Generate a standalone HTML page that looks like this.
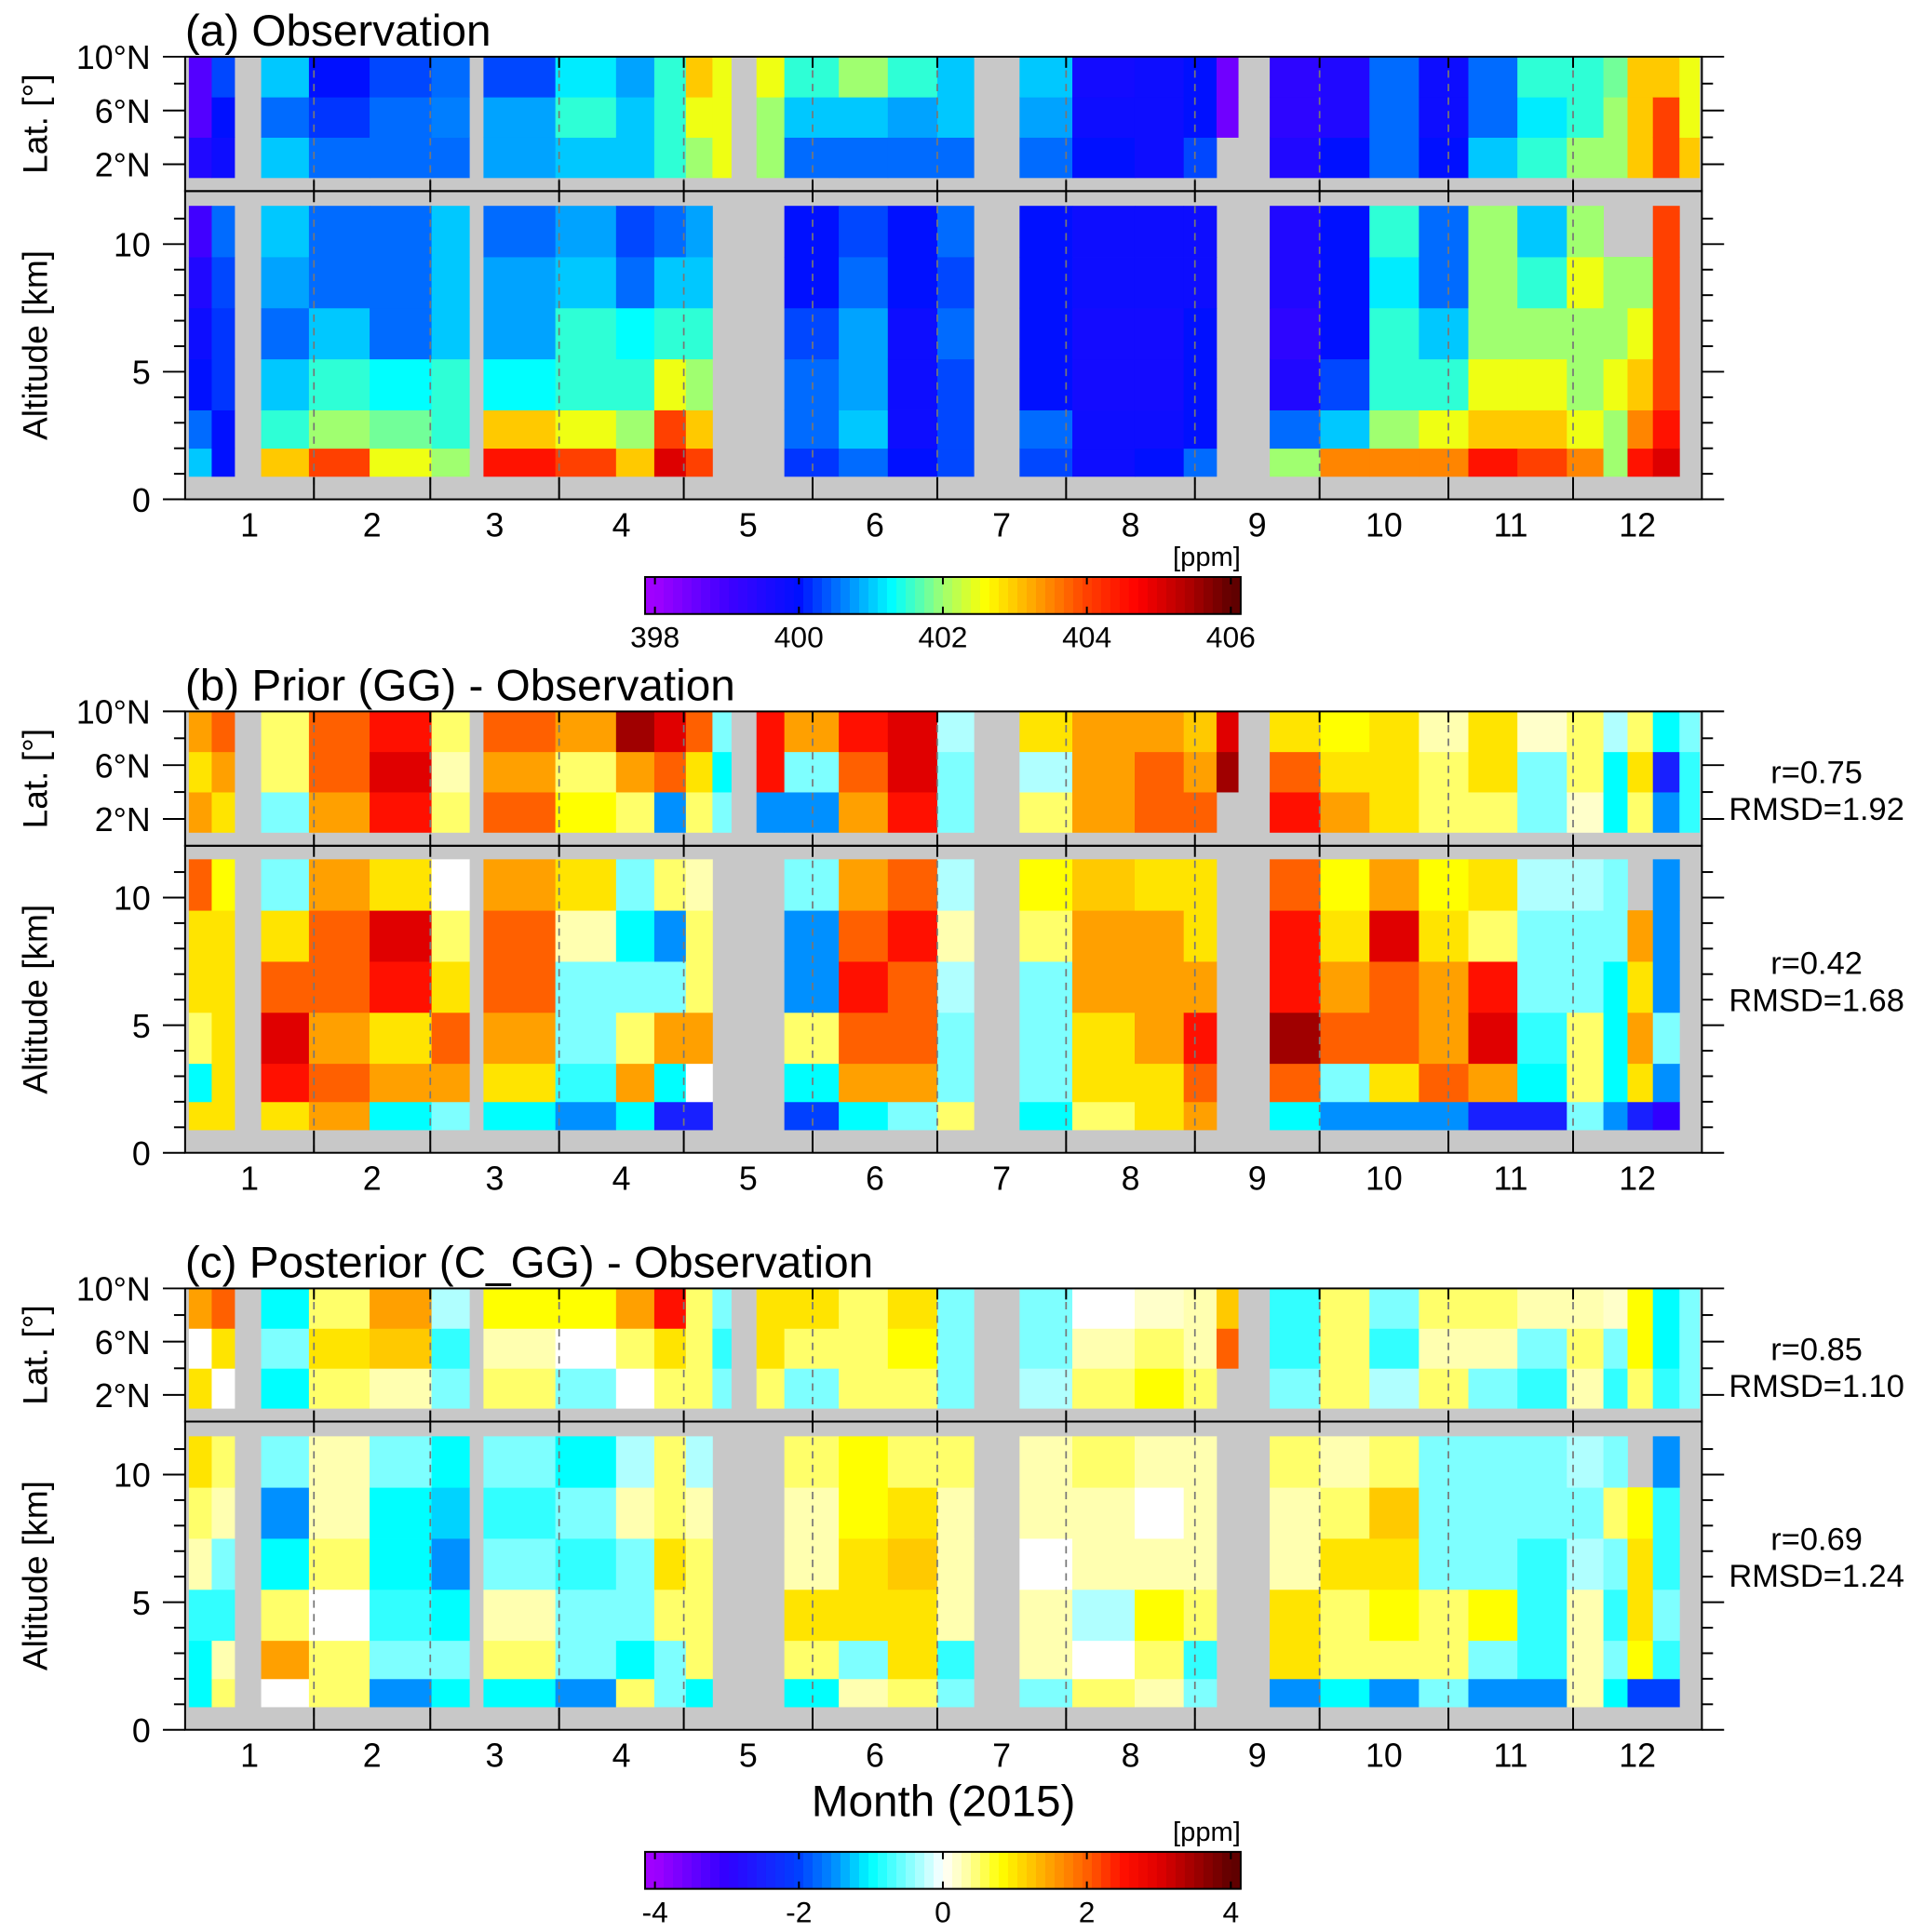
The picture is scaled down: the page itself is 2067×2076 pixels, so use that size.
<!DOCTYPE html>
<html><head><meta charset="utf-8">
<style>
html,body{margin:0;padding:0;background:#fff;}
svg{display:block;font-family:"Liberation Sans",Arial,sans-serif;}
</style></head>
<body>
<svg id="chart" width="2067" height="2076" viewBox="0 0 1560 1567" xmlns="http://www.w3.org/2000/svg"></svg>
<script>
// ===== data =====
const months = [1,2,3,4,5,6,7,8,9,10,11,12];
const monthEdges = [0,31,59,90,120,151,181,212,243,273,304,334,365]; // day of year
// flight segments, day of year 2015
const segStart = [0.9,6.4,18.3,29.8,44.4,59.3,71.8,89.1,103.7,112.9,120.5,126.9,137.5,144.2,157.3,169.1,181.0,200.8,213.5,228.5,240.3,248.2,261.0,273.2,285.0,296.9,308.8,320.6,332.5,341.3,347.1,353.2,359.6];
const segEnd   = [6.4,11.9,29.8,44.4,59.3,68.4,89.1,103.7,112.9,120.5,126.9,131.4,144.2,157.3,169.1,181.0,189.8,213.5,228.5,240.3,248.2,253.4,273.2,285.0,296.9,308.8,320.6,332.5,341.3,347.1,353.2,359.6,364.4];
const latBins = [[1,4],[4,7],[7,10]];
const altBins = [[0.9,2],[2,3.5],[3.5,5.5],[5.5,7.5],[7.5,9.5],[9.5,11.5]];
const N = null;
// Panel (a) observation [ppm]
const obsLat = [[399.5,398.8,398.8],[399.8,400,400.3],[401,400.5,401],[400.5,400.2,400],[400.5,400.5,400.3],[400.5,400.6,400.5],[400.8,400.8,400.3],[401,401.5,401.2],[401,401,400.8],[401.5,401.5,401.5],[402,402.5,403],[402.5,402.5,402.5],[402,402,402.5],[400.5,401,401.5],[400.5,401,402],[400.5,400.8,401.5],[400.5,401,401],[400.5,400.8,401],[400,399.8,399.7],[399.8,399.8,399.8],[400.3,400,400],[N,398.5,398.5],[399.5,399.3,399.3],[400,399.5,399.5],[400.5,400.5,400.5],[400,399.8,399.8],[401,400.5,400.5],[401.5,401.2,401.5],[402,401.5,401.5],[402,402,401.8],[403,403,403],[404,404,403],[403,402.5,402.5]];
const obsAlt = [[401,400.5,400,399.8,399.5,399],[400,400,400.2,400.2,400.3,400.5],[403,401.5,401,400.5,400.8,401],[404,402,401.5,401,400.5,400.5],[402.5,401.8,401.3,400.5,400.5,400.5],[402,401.5,401.5,401,401,401],[404.5,403,401.3,400.8,400.8,400.5],[404,402.5,401.5,401.5,401,400.8],[403,402,401.5,401.3,400.5,400.3],[405,404,402.5,401.5,401,400.5],[404,403,402,401.5,401,400.8],N,N,[400.2,400.5,400.5,400.3,400,400],[400.5,401,400.8,400.8,400.5,400.3],[400,399.8,399.8,399.8,400,400],[400.3,400.3,400.3,400.5,400.3,400.5],[400.3,400.5,400,400,400,400],[399.8,399.8,399.7,399.7,399.8,399.8],[400,399.8,399.7,399.7,399.8,399.8],[400.5,400,400,400,399.8,399.8],N,[402,400.5,399.5,399.3,399.5,399.5],[403.5,401,400.3,400,400,400],[403.5,402,401.5,401.5,401.2,401.5],[403.5,402.5,401.5,401,400.5,400.5],[404.5,403,402.5,402,402,402],[404,403,402.5,402,401.5,401],[403.5,402.5,402,402,402.5,402],[402,402,402.5,402,402,N],[404.5,403.5,403,402.5,402,N],[405,404.5,404,404,404,404],N];
// Panel (b) prior - observation [ppm]
const priorLat = [[1.5,1,1.5],[1,1.5,2],[-0.5,0.5,0.5],[1.5,2,2],[2.5,3,2.5],[0.5,0.3,0.5],[2,1.5,2],[0.8,0.5,1.5],[0.5,1.5,3.5],[-1.5,2,3],[0.5,1,2],[-0.5,-1,-0.5],[-1.5,2.5,2.5],[-1.5,-0.5,1.5],[1.5,2,2.5],[2.5,3,3],[-0.5,-0.5,-0.3],[0.5,-0.3,1],[1.5,1.5,1.5],[2,2,1.5],[2,1.5,1.2],[N,3.5,3],[2.5,2,1],[1.5,1,0.8],[1,1,1],[0.5,0.5,0.3],[0.5,1,1],[-0.5,-0.5,0.2],[0.2,0.5,0.5],[-1,-1,-0.3],[0.5,1,0.5],[-1.5,-2.5,-1],[-0.8,-0.8,-0.5]];
const priorAlt = [[1,-1,0.5,1,1,2],[1,1,1,1,1,0.8],[1,2.5,3,2,1,-0.5],[1.5,2,1.5,2,2,1.5],[-1,1.5,1,2.5,3,1],[-0.5,1.5,2,1,0.5,0],[-1,1,1.5,2,2,1.5],[-1.5,-0.8,-0.5,-0.5,0.3,1],[-1,1.5,0.5,-0.5,-1,-0.5],[-2.5,-1,1.5,-0.5,-1.5,0.5],[-2.5,0,1.5,0.5,0.5,0.3],N,N,[-2,-1,0.5,-1.5,-1.5,-0.5],[-1,1.5,2,2.5,2,1.5],[-0.5,1.5,2,2,2.5,2],[0.5,-0.5,-0.5,-0.3,0.3,-0.3],[-1,-0.5,-0.5,-0.5,0.5,0.8],[0.5,1,1,1.5,1.5,1.2],[1,1,1.5,1.5,1.5,1],[1.5,2,2.5,1.5,1,1],N,[-1,2,3.5,2.5,2.5,2],[-1.5,-0.5,2,1.5,1,0.8],[-1.5,1,2,2,3,1.5],[-1.5,2,1.5,1.5,1,0.8],[-2.5,1.5,3,2.5,0.5,1],[-2.5,-1,-0.8,-0.5,-0.5,-0.3],[-0.5,0.5,0.5,-0.5,-0.5,-0.3],[-1.5,-1,-1,-1,-0.5,-0.5],[-2.5,1,1.5,1,1.5,N],[-3,-1.5,-0.5,-1.5,-1.5,-1.5],N];
// Panel (c) posterior - observation [ppm]
const postLat = [[1,0,1.5],[0,1,2],[-1,-0.5,-1],[0.5,1,0.5],[0.3,1.2,1.5],[-0.5,-0.8,-0.3],[0.5,0.3,0.8],[-0.5,0,0.8],[0,0.5,1.5],[0.5,1,2.5],[0.5,0.5,0.5],[-0.5,-0.8,-0.5],[0.5,1,1],[-0.5,0.5,1],[0.5,0.5,0.5],[0.5,0.8,1],[-0.5,-0.5,-0.5],[-0.3,-0.5,-0.5],[0.5,0.3,0],[0.8,0.5,0.2],[0.5,0.3,0.3],[N,2,1.2],[-0.5,-0.8,-0.8],[0.5,0.5,0.5],[-0.3,-0.8,-0.5],[0.5,0.3,0.5],[-0.5,0.3,0.5],[-0.8,-0.5,0.3],[0.3,0.5,0.3],[-0.8,-0.5,0.2],[0.5,0.8,0.8],[-0.8,-1,-1],[-0.5,-0.5,-0.5]];
const postAlt = [[-1,-1,-0.8,0.3,0.5,1],[0.5,0.3,-0.8,-0.5,0.3,0.5],[0,1.5,0.5,-1,-1.5,-0.5],[0.5,0.5,0,0.5,0.3,0.3],[-1.5,-0.5,-0.8,-1,-1,-0.5],[-1,-0.5,-1,-1.5,-1.2,-1],[-1,0.5,0.3,-0.5,-0.8,-0.5],[-1.5,-0.5,-0.5,-0.8,-0.5,-1],[0.5,-1,-0.5,-0.5,0.3,-0.3],[-0.5,-0.5,0.5,1,0.5,0.5],[-1,0.5,0.5,0.5,0.3,-0.3],N,N,[-1,0.5,1,0.3,0.3,0.5],[0.3,-0.5,1,1,0.8,0.8],[0.5,1,1,1.2,1,0.5],[-0.5,-0.8,0.3,0.3,0.3,0.5],[-0.5,0.3,0.3,0,0.3,0.3],[0.5,0,-0.3,0.3,0.3,0.5],[0.3,0.5,0.8,0.3,0,0.3],[-0.5,-0.8,0.5,0.3,0.3,0.3],N,[-1.5,1,1,0.3,0.3,0.5],[-1,0.5,0.5,1,0.5,0.3],[-1.5,0.5,0.8,1,1.2,0.5],[-0.5,0.5,0.5,-0.5,-0.5,-0.5],[-1.5,-0.5,0.8,-0.5,-0.5,-0.5],[-1.5,-0.8,-0.8,-0.8,-0.5,-0.5],[0.3,0.3,0.3,-0.3,-0.5,-0.3],[-1,-0.5,-0.8,-0.5,0.5,-0.5],[-2,0.8,1,1,0.8,N],[-2,-0.8,-0.5,-0.8,-0.8,-1.5],N];
const obsTicks = [398,400,402,404,406];
const diffTicks = [-4,-2,0,2,4];
const stats = [["r=0.75","RMSD=1.92","r=0.42","RMSD=1.68"],["r=0.85","RMSD=1.10","r=0.69","RMSD=1.24"]];

// ===== colormaps =====
const obsStops = [[398,[160,0,255]],[399,[64,0,255]],[400,[0,16,255]],[400.7,[0,144,255]],[401.3,[0,255,255]],[402,[160,255,112]],[402.6,[255,255,0]],[403.3,[255,160,0]],[404,[255,64,0]],[404.7,[255,0,0]],[405.4,[176,0,0]],[406,[96,0,0]]];
const diffStops = [[-4,[160,0,255]],[-3,[48,0,255]],[-2,[0,64,255]],[-1.5,[0,144,255]],[-1,[0,255,255]],[-0.3,[176,255,255]],[0,[255,255,255]],[0.3,[255,255,176]],[0.8,[255,255,0]],[1.5,[255,160,0]],[2,[255,96,0]],[2.5,[255,16,0]],[3,[224,0,0]],[4,[96,0,0]]];
function cmap(stops,v){
  if(v<=stops[0][0]) return rgb(stops[0][1]);
  for(let i=1;i<stops.length;i++){
    if(v<=stops[i][0]){const a=stops[i-1],b=stops[i],t=(v-a[0])/(b[0]-a[0]);
      return rgb(a[1].map((c,k)=>c+(b[1][k]-c)*t));}
  }
  return rgb(stops[stops.length-1][1]);
}
function rgb(c){return `rgb(${c.map(Math.round).join(',')})`;}

// ===== drawing =====
const svg=document.getElementById('chart');
const NS='http://www.w3.org/2000/svg';
function el(tag,attrs,parent){const e=document.createElementNS(NS,tag);for(const k in attrs)e.setAttribute(k,attrs[k]);(parent||svg).appendChild(e);return e;}
function txt(s,attrs,parent){const e=el('text',attrs,parent);e.textContent=s;return e;}
const X0=150,X1=1380;
const xS=d=>X0+d*(X1-X0)/365;

function panel(key,title,titleY,latTop,latBot,altBot,latVals,altVals,stops,statTxt){
  const g=el('g',{});
  
  
  const altMax=(altBot-latBot)/20.7;
  const yLat=v=>latBot-(v/10)*(latBot-latTop);
  const yAlt=v=>altBot-(v/altMax)*(altBot-latBot);
  const t=txt(title,{x:150,y:titleY,'font-size':36,fill:'#000'},g);
  
  
  el('rect',{x:X0,y:latTop,width:X1-X0,height:altBot-latTop,fill:'#c8c8c8'},g);
  for(let i=0;i<segStart.length;i++){
    const x=xS(segStart[i]),w=xS(segEnd[i])-x;
    const lv=latVals[i];
    if(lv) lv.forEach((v,j)=>{ if(v===null)return;
      const r=el('rect',{x:x,y:yLat(latBins[j][1]),width:w+0.3,height:yLat(latBins[j][0])-yLat(latBins[j][1])+0.3,fill:cmap(stops,v)},g);
      
      
    });
    const av=altVals[i];
    if(av) av.forEach((v,j)=>{ if(v===null)return;
      const r=el('rect',{x:x,y:yAlt(altBins[j][1]),width:w+0.3,height:yAlt(altBins[j][0])-yAlt(altBins[j][1])+0.3,fill:cmap(stops,v)},g);
      
      
    });
  }
  // month boundaries
  for(let m=1;m<12;m++){
    const x=xS(monthEdges[m]);
    el('line',{x1:x,y1:latTop,x2:x,y2:altBot,stroke:'#777','stroke-width':1.3,'stroke-dasharray':'6,5'},g);
    [[latTop,latTop+9],[latBot-9,latBot+9],[altBot-18,altBot]].forEach(p=>el('line',{x1:x,y1:p[0],x2:x,y2:p[1],stroke:'#000','stroke-width':1.5},g));
  }
  el('rect',{x:X0,y:latTop,width:X1-X0,height:latBot-latTop,fill:'none',stroke:'#000','stroke-width':1.5},g);
  el('rect',{x:X0,y:latBot,width:X1-X0,height:altBot-latBot,fill:'none',stroke:'#000','stroke-width':1.5},g);
  [2,4,6,8,10].forEach(v=>{const y=yLat(v),maj=(v%4===2);
    el('line',{x1:X0-(maj?18:9),y1:y,x2:X0,y2:y,stroke:'#000','stroke-width':1.5},g);
    el('line',{x1:X1,y1:y,x2:X1+(maj?18:9),y2:y,stroke:'#000','stroke-width':1.5},g);
    if(maj){const l=txt(v+'°N',{x:122,y:y+10,'font-size':27,'text-anchor':'end'},g);
      
      }
  });
  for(let v=0;v<=11;v++){const y=yAlt(v),maj=(v%5===0);
    el('line',{x1:X0-(maj?18:9),y1:y,x2:X0,y2:y,stroke:'#000','stroke-width':1.5},g);
    el('line',{x1:X1,y1:y,x2:X1+(maj?18:9),y2:y,stroke:'#000','stroke-width':1.5},g);
    if(maj){const l=txt(String(v),{x:122,y:y+10,'font-size':27,'text-anchor':'end'},g);
      
      }
  }
  const la=txt('Lat. [°]',{transform:`translate(38,${(latTop+latBot)/2}) rotate(-90)`,'font-size':28,'text-anchor':'middle'},g);
  
  
  const aa=txt('Altitude [km]',{transform:`translate(38,${(latBot+altBot)/2}) rotate(-90)`,'font-size':28,'text-anchor':'middle'},g);
  
  
  months.forEach(m=>{const l=txt(String(m),{x:xS((monthEdges[m-1]+monthEdges[m])/2),y:altBot+30,'font-size':27,'text-anchor':'middle'},g);
    
    });
  if(statTxt){
    const ys=[latTop+58,latTop+88,latBot+104,latBot+134];
    statTxt.forEach((s,i)=>{const l=txt(s,{x:1473,y:ys[i],'font-size':26,'text-anchor':'middle'},g);
      
      });
  }
}
function colorbar(key,y,stops,ticks){
  const g=el('g',{});
  
  
  const x0=523,x1=1006,lo=ticks[0],hi=ticks[ticks.length-1],n=64,pad=8;
  const xv=v=>x0+pad+(v-lo)/(hi-lo)*(x1-x0-2*pad);
  for(let i=0;i<n;i++){const a=x0+i*(x1-x0)/n,v=lo+(i+0.5)/n*(hi-lo)*(1+2*pad/(x1-x0-2*pad))-pad/(x1-x0-2*pad)*(hi-lo);
    el('rect',{x:a,y:y,width:(x1-x0)/n+0.4,height:30,fill:cmap(stops,v)},g);}
  el('rect',{x:x0,y:y,width:x1-x0,height:30,fill:'none',stroke:'#000','stroke-width':1.5},g);
  ticks.forEach(v=>{const x=xv(v);
    el('line',{x1:x,y1:y,x2:x,y2:y+6,stroke:'#000','stroke-width':1.5},g);
    el('line',{x1:x,y1:y+24,x2:x,y2:y+30,stroke:'#000','stroke-width':1.5},g);
    const l=txt(String(v),{x:x,y:y+57,'font-size':24,'text-anchor':'middle'},g);
    
    });
  const u=txt('[ppm]',{x:1006,y:y-9,'font-size':22,'text-anchor':'end'},g);
  
  
}
panel('a','(a) Observation',37,46,155,405,obsLat,obsAlt,obsStops,null);
colorbar('observation',468,obsStops,obsTicks);
panel('b','(b) Prior (GG) - Observation',568,577,686,935,priorLat,priorAlt,diffStops,stats[0]);
panel('c','(c) Posterior (C_GG) - Observation',1036,1045,1153,1403,postLat,postAlt,diffStops,stats[1]);
const xt=txt('Month (2015)',{x:765,y:1473,'font-size':36,'text-anchor':'middle'});


colorbar('difference',1502,diffStops,diffTicks);
</script>
</body></html>
